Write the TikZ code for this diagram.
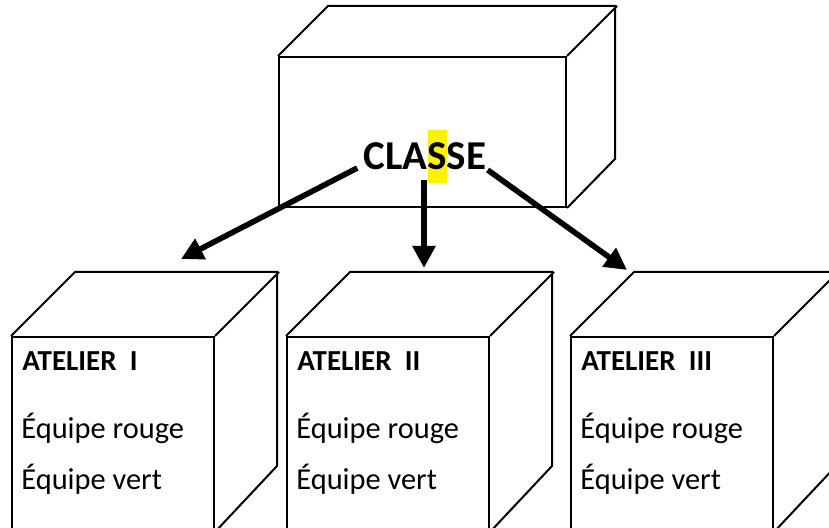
\documentclass[tikz,border=0pt]{standalone}
\usepackage{fontspec}
\setmainfont{Carlito}
\usetikzlibrary{arrows.meta}

% yellow highlight behind one letter
\newcommand{\surligne}[1]{{\setlength{\fboxsep}{0pt}\colorbox{yellow}{\rule[-0.32em]{0pt}{1.3em}#1}}}

\tikzset{
  face/.style={draw, line width=1pt, minimum width=101pt, minimum height=97pt, inner sep=0pt},
  arete/.style={line width=1pt, line join=miter},
  fleche/.style={line width=2.8pt, -{Triangle[length=11pt,width=11pt]}},
  titre/.style={anchor=base west, inner sep=0pt, font=\fontsize{14.5}{17}\selectfont\bfseries},
  ligne/.style={anchor=base west, inner sep=0pt, font=\fontsize{15.2}{18}\selectfont}
}

\begin{document}
\begin{tikzpicture}[x=0.5pt,y=-0.5pt]
\clip (0,0) rectangle (829,528);

% Classe box
\node[face, minimum width=143.5pt, minimum height=75pt] (boite) at (422.5,132) {};
\draw[arete] (boite.north west) -- ++(50,-50) -- ++(287,0) -- ++(0,153) -- (boite.south east);
\draw[arete] (boite.north east) -- ++(50,-50);
\node[font=\fontsize{20.5}{24}\selectfont\bfseries, inner sep=0pt, anchor=base] (classe) at (425,170) {CLA\surligne{S}SE};

% Atelier I
\node[face] (atelier1) at (113,434) {};
\draw[arete] (atelier1.north west) -- ++(64,-64) -- ++(202,0) -- ++(0,194) -- (atelier1.south east);
\draw[arete] (atelier1.north east) -- ++(64,-64);
\node[titre] (titre1) at (22,371) {ATELIER~~I};
\node[ligne] (rouge1) at (21,439) {Équipe rouge};
\node[ligne] (vert1) at (21,489) {Équipe vert};

% Atelier II
\node[face] (atelier2) at (388,434) {};
\draw[arete] (atelier2.north west) -- ++(64,-64) -- ++(202,0) -- ++(0,194) -- (atelier2.south east);
\draw[arete] (atelier2.north east) -- ++(64,-64);
\node[titre] (titre2) at (297,371) {ATELIER~~II};
\node[ligne] (rouge2) at (296,439) {Équipe rouge};
\node[ligne] (vert2) at (296,489) {Équipe vert};

% Atelier III
\node[face] (atelier3) at (672,434) {};
\draw[arete] (atelier3.north west) -- ++(64,-64) -- ++(202,0) -- ++(0,194) -- (atelier3.south east);
\draw[arete] (atelier3.north east) -- ++(64,-64);
\node[titre] (titre3) at (581,371) {ATELIER~~III};
\node[ligne] (rouge3) at (580,439) {Équipe rouge};
\node[ligne] (vert3) at (580,489) {Équipe vert};

% Arrows from the class to each workshop
\coordinate (pointe1) at (181,259);
\coordinate (pointe2) at (424,268);
\coordinate (pointe3) at (627,270);
\draw[fleche] ([xshift=-3pt,yshift=1pt]classe.base west) -- (pointe1);
\draw[fleche] ([xshift=-0.5pt,yshift=-5pt]classe.base) -- (pointe2);
\draw[fleche] ([xshift=0.5pt]classe.base east) -- (pointe3);
\end{tikzpicture}
\end{document}
